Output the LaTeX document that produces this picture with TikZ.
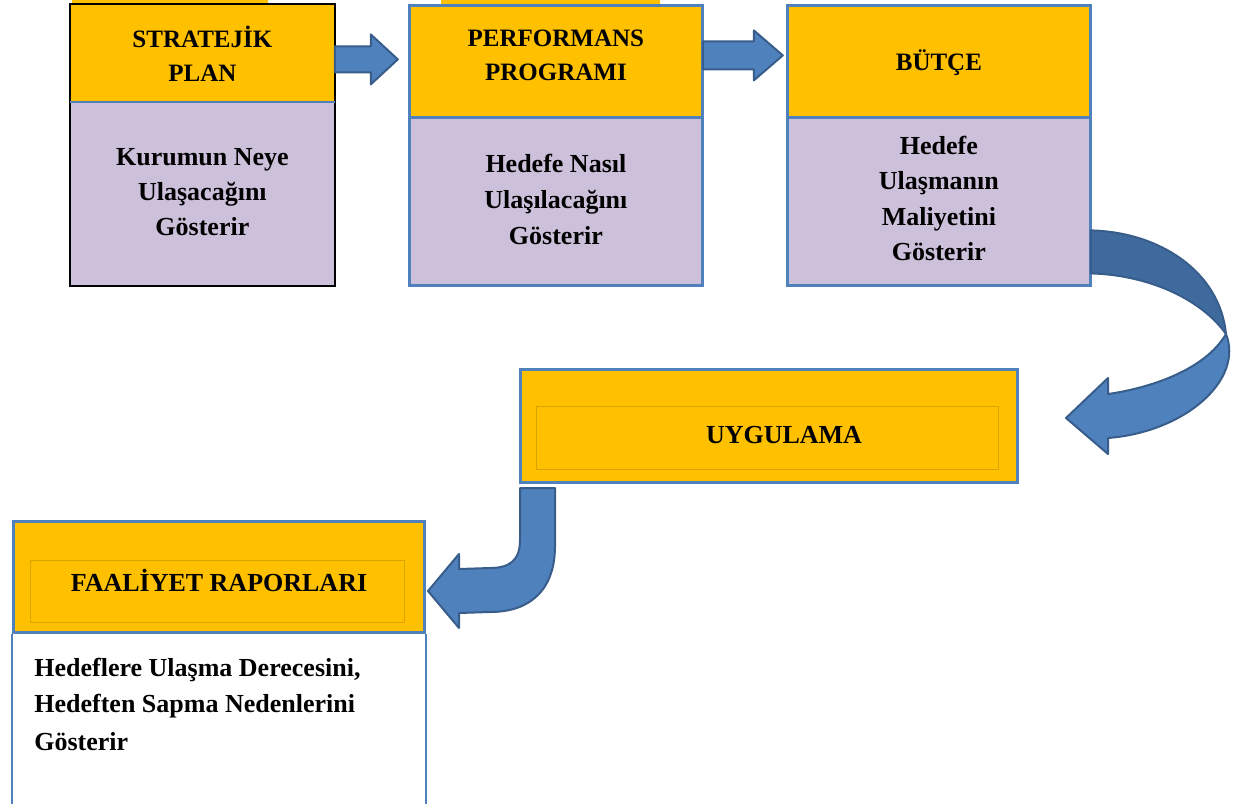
\documentclass[tikz,border=0pt]{standalone}
\usepackage{fontspec}
\setmainfont{Liberation Serif}
\usetikzlibrary{calc}
\definecolor{headyellow}{HTML}{FFC000}
\definecolor{bodylilac}{HTML}{CCC0DA}
\definecolor{frameblue}{HTML}{4F81BD}
\definecolor{arrowdark}{HTML}{3F6A9E}
\definecolor{arrowedge}{HTML}{385D8A}
\definecolor{innerline}{HTML}{D9A300}
\begin{document}
\begin{tikzpicture}[x=0.5pt,y=-0.5pt,line join=miter,
		every node/.style={font=\fontsize{13}{17.5}\selectfont\bfseries,align=center,inner sep=0pt},
		headbox/.style={fill=headyellow,anchor=north west},
		bodybox/.style={fill=bodylilac,anchor=north west},
		blueframe/.style={draw=frameblue,line width=1.5pt},
		blockarrow/.style={fill=frameblue,draw=arrowedge,line width=1pt,line join=round}]
		\useasboundingbox (0,0) rectangle (1235,803);
		\fill[headyellow] (72,0) rectangle (268,4) (441,0) rectangle (660,5);
		% upper row
		\node[headbox,minimum width=132pt,minimum height=48.5pt] (stratHead) at (70,4) {};
		\node[bodybox,minimum width=132pt,minimum height=92pt] (stratBody) at (70,101) {};
		\node[headbox,minimum width=146.5pt,minimum height=56pt] (progHead) at (409,5) {};
		\node[bodybox,minimum width=146.5pt,minimum height=84pt] (progBody) at (409,117) {};
		\node[headbox,minimum width=151.5pt,minimum height=56pt] (butceHead) at (787,5) {};
		\node[bodybox,minimum width=151.5pt,minimum height=84pt] (butceBody) at (787,117) {};
		\draw[line width=1pt] (stratHead.north west) rectangle (stratBody.south east);
		\draw[frameblue,line width=1pt] (stratHead.south west) -- (stratHead.south east);
		\draw[blueframe] (progHead.north west) rectangle (progBody.south east) (progHead.south west) -- (progHead.south east);
		\draw[blueframe] (butceHead.north west) rectangle (butceBody.south east) (butceHead.south west) -- (butceHead.south east);
		\node[font=\fontsize{12.5}{17}\selectfont\bfseries] (stratTitle) at ($(stratHead.center)+(0,1)$) {STRATEJİK\\PLAN};
		\node (stratText) at ($(stratBody.center)+(0,-1)$) {Kurumun Neye\\Ulaşacağını\\Gösterir};
		\node[font=\fontsize{12.5}{17}\selectfont\bfseries] (progTitle) at ($(progHead.center)+(0,-6)$) {PERFORMANS\\PROGRAMI};
		\node[font=\fontsize{13}{18}\selectfont\bfseries] (progText) at ($(progBody.center)+(0,-2)$) {Hedefe Nasıl\\Ulaşılacağını\\Gösterir};
		\node[font=\fontsize{12.5}{17}\selectfont\bfseries] (butceTitle) at ($(butceHead.center)+(0,1)$) {BÜTÇE};
		\node[font=\fontsize{13}{17.7}\selectfont\bfseries] (butceText) at ($(butceBody.center)+(0,-3)$) {Hedefe\\Ulaşmanın\\Maliyetini\\Gösterir};
		% straight block arrows
		\draw[blockarrow] ($(stratHead.east)+(0,-6.5)$) -- ++(36,0) -- ++(0,-12) -- ++(27,25) -- ++(-27,25) -- ++(0,-12) -- ++(-36,0) -- cycle;
		\draw[blockarrow] ($(progHead.east)+(0,-20)$) -- ++(51,0) -- ++(0,-11) -- ++(29,25) -- ++(-29,25) -- ++(0,-11) -- ++(-51,0) -- cycle;
		% middle and lower boxes
		\node[headbox,blueframe,minimum width=248.5pt,minimum height=56.5pt] (uygBox) at (519,368) {};
		\draw[innerline,line width=0.4pt] ($(uygBox.north west)+(17,38)$) rectangle ($(uygBox.south east)+(-21,-15)$);
		\node (uygTitle) at ($(uygBox.center)+(15,9)$) {UYGULAMA};
		\node[headbox,blueframe,minimum width=205.5pt,minimum height=55.5pt] (faalHead) at (12,520) {};
		\draw[innerline,line width=0.4pt] ($(faalHead.north west)+(18,40)$) rectangle ($(faalHead.south east)+(-22,-12)$);
		\node (faalTitle) at ($(faalHead.center)+(0,3)$) {FAALİYET RAPORLARI};
		\draw[frameblue,line width=1pt] (faalHead.south west) -- ++(0,171) (faalHead.south east) -- ++(0,171);
		\node[anchor=north west,align=left,font=\fontsize{13}{18}\selectfont\bfseries] (faalText) at ($(faalHead.south west)+(22,24)$) {Hedeflere Ulaşma Derecesini,\\Hedeften Sapma Nedenlerini\\[1pt]Gösterir};
		% curved arrow from BÜTÇE to UYGULAMA
		\coordinate (curveA) at ($(butceBody.east)+(0,29)$);
		\coordinate (curveB) at ($(butceBody.east)+(0,72)$);
		\coordinate (curveTwist) at (1226,334);
		\coordinate (curveTip) at ($(uygBox.east)+(47,-8)$);
		\draw[blockarrow,fill=arrowdark] (curveA) .. controls (1160,232) and (1220,272) .. (curveTwist) .. controls (1202,300) and (1150,275) .. (curveB) -- cycle;
		\draw[blockarrow] (curveTwist) .. controls (1244,380) and (1185,432) .. ($(curveTip)+(42,20)$) -- ++(0,16) -- (curveTip) -- ($(curveTip)+(42,-40)$) -- ++(0,16) .. controls (1150,388) and (1205,370) .. (curveTwist) -- cycle;
		% bent arrow from UYGULAMA to FAALİYET RAPORLARI
		\coordinate (bendTip) at ($(faalHead.east)+(2,14)$);
		\draw[blockarrow] ($(uygBox.south west)+(1,4)$) -- ++(35,0) -- ++(0,58) .. controls (555,590) and (530,612) .. (490,612) -- ($(bendTip)+(31,22)$) -- ++(0,15) -- (bendTip) -- ($(bendTip)+(31,-37)$) -- ++(0,15) -- (490,568) .. controls (510,568) and (520,560) .. (520,540) -- cycle;
\end{tikzpicture}
\end{document}
